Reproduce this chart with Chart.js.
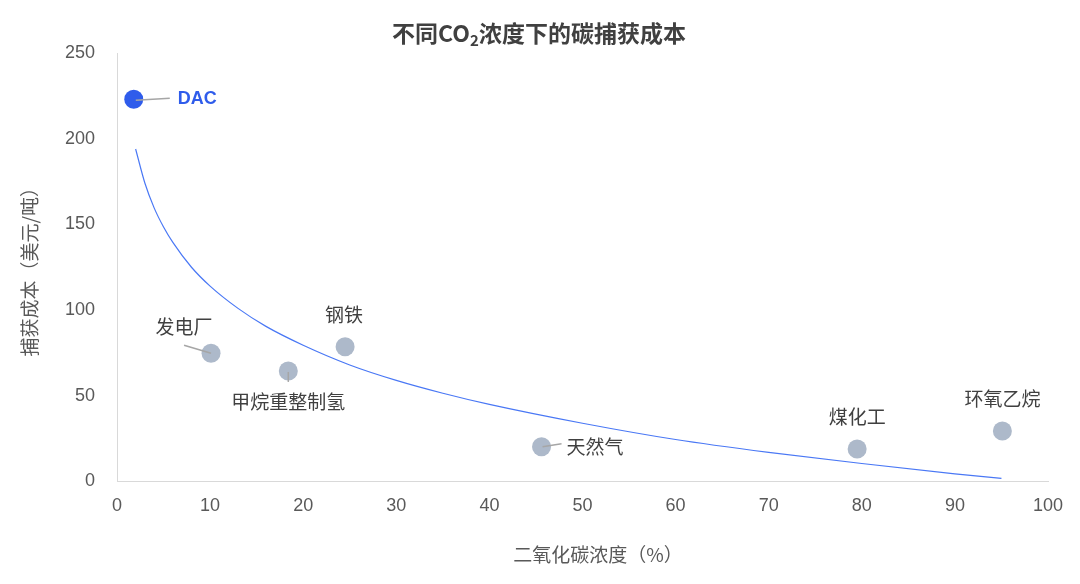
<!DOCTYPE html>
<html>
<head>
<meta charset="utf-8">
<script src="https://cdn.jsdelivr.net/npm/chart.js@4.4.1/dist/chart.umd.min.js"></script>
<style>
  html, body { margin: 0; padding: 0; background: #ffffff; }
  #wrap { width: 1080px; height: 584px; position: relative; }
</style>
</head>
<body>
<div id="wrap"><canvas id="c" width="1080" height="584"></canvas></div>
<script>
// ---- data ----
const categories = ["DAC", "发电厂", "甲烷重整制氢", "钢铁", "天然气", "煤化工", "环氧乙烷"];
const co2Concentration = [1.8, 10.1, 18.4, 24.5, 45.6, 79.5, 95.1];
const captureCost = [223, 74.8, 64.5, 78.6, 20.3, 19, 29.5];
// trend curve, values
const trendX = [2, 3, 4, 5, 6, 8, 10, 13, 16, 20, 25, 30, 35, 40, 50, 60, 70, 80, 90, 95];
const trendY = [194, 174, 159.5, 148.5, 139.5, 125, 114, 101, 90.5, 79.5, 68, 59, 51.5, 45, 34, 24.5, 17, 10.5, 4.5, 1.8];
const xTicks = [0, 10, 20, 30, 40, 50, 60, 70, 80, 90, 100];
const yTicks = [0, 50, 100, 150, 200, 250];

const titleParts = ["不同CO", "2", "浓度下的碳捕获成本"];
const xTitle = "二氧化碳浓度（%）";
const yTitle = "捕获成本（美元/吨）";

// ---- styles ----
const FONT = "'Liberation Sans', 'Noto Sans CJK SC', sans-serif";
const CJK = "'Noto Sans CJK SC', 'Liberation Sans', sans-serif";
const grey = "#ADB9CA";
const blue = "#2F5CEB";

// label placement relative to point (pixels)
const labelLayout = [
  { align: "left",   dx: 44,  dy: 0,   line: [2, 1, 36, -1], color: blue, bold: true },
  { align: "center", dx: -27, dy: -27, line: [0, 0, -27, -8] },
  { align: "center", dx: 0,   dy: 31,  line: [0, 1, 0, 11] },
  { align: "center", dx: -1,  dy: -32 },
  { align: "left",   dx: 25,  dy: 0,   line: [1, 0, 20, -3] },
  { align: "center", dx: 0,   dy: -32 },
  { align: "center", dx: 0,   dy: -32 }
];

const labelPlugin = {
  id: "pointLabels",
  afterDatasetsDraw(chart) {
    const ctx = chart.ctx;
    const meta = chart.getDatasetMeta(1);
    ctx.save();
    meta.data.forEach((pt, i) => {
      const L = labelLayout[i];
      const px = pt.x, py = pt.y;
      if (L.line) {
        ctx.strokeStyle = "#A6A6A6";
        ctx.lineWidth = 1.5;
        ctx.beginPath();
        ctx.moveTo(px + L.line[0], py + L.line[1]);
        ctx.lineTo(px + L.line[2], py + L.line[3]);
        ctx.stroke();
      }
      ctx.fillStyle = L.color || "#404040";
      ctx.font = (L.bold ? "bold 18px " + FONT : "19px " + CJK);
      ctx.textAlign = L.align;
      ctx.textBaseline = "middle";
      ctx.fillText(categories[i], px + L.dx, py + L.dy);
    });
    ctx.restore();
  }
};

const titlePlugin = {
  id: "subTitle",
  afterDraw(chart) {
    const ctx = chart.ctx;
    ctx.save();
    ctx.fillStyle = "#404040";
    ctx.textBaseline = "alphabetic";
    const big = "bold 23px " + CJK;
    const small = "bold 15px " + CJK;
    ctx.font = big;
    const w0 = ctx.measureText(titleParts[0]).width;
    const w2 = ctx.measureText(titleParts[2]).width;
    ctx.font = small;
    const w1 = ctx.measureText(titleParts[1]).width;
    const total = w0 + w1 + w2;
    let x = 539 - total / 2;
    const base = 42;
    ctx.textAlign = "left";
    ctx.font = big; ctx.fillText(titleParts[0], x, base); x += w0;
    ctx.font = small; ctx.fillText(titleParts[1], x, base + 4); x += w1;
    ctx.font = big; ctx.fillText(titleParts[2], x, base);

    // x-axis title
    ctx.fillStyle = "#595959";
    ctx.font = "19px " + CJK;
    ctx.textAlign = "center";
    ctx.textBaseline = "middle";
    ctx.fillText(xTitle, 598, 555);
    ctx.restore();
  }
};

new Chart(document.getElementById("c"), {
  type: "scatter",
  data: {
    datasets: [
      {
        label: "trend",
        data: trendX.map((x, i) => ({ x: x, y: trendY[i] })),
        showLine: true,
        borderColor: "#4A78F5",
        borderWidth: 1.2,
        pointRadius: 0,
        tension: 0.4,
        cubicInterpolationMode: "monotone",
        fill: false
      },
      {
        label: "points",
        data: co2Concentration.map((x, i) => ({ x: x, y: captureCost[i] })),
        pointRadius: 9.5,
        pointHoverRadius: 9.5,
        borderWidth: 0,
        backgroundColor: categories.map((c, i) => i === 0 ? blue : grey),
        pointBackgroundColor: categories.map((c, i) => i === 0 ? blue : grey)
      }
    ]
  },
  options: {
    responsive: false,
    animation: false,
    events: [],
    layout: { padding: { top: 53, right: 32, left: 0, bottom: 0 } },
    plugins: {
      legend: { display: false },
      title: { display: false },
      tooltip: { enabled: false }
    },
    scales: {
      x: {
        type: "linear",
        min: 0, max: 100,
        afterFit(s) { s.height = 102.5; },
        afterBuildTicks(s) { s.ticks = xTicks.map(v => ({ value: v })); },
        grid: { display: false, drawTicks: false },
        border: { display: true, color: "#D9D9D9", width: 1 },
        ticks: { color: "#595959", font: { family: FONT, size: 18 }, padding: 14, maxRotation: 0 },
        title: { display: false }
      },
      y: {
        type: "linear",
        min: 0, max: 250,
        afterFit(s) { s.width = 117; },
        afterBuildTicks(s) { s.ticks = yTicks.map(v => ({ value: v })); },
        grid: { display: false, drawTicks: false },
        border: { display: true, color: "#D9D9D9", width: 1 },
        ticks: { color: "#595959", font: { family: FONT, size: 18 }, padding: 22 },
        title: { display: true, text: yTitle, color: "#595959", font: { family: CJK, size: 19 }, padding: { top: 18, bottom: 0 } }
      }
    }
  },
  plugins: [labelPlugin, titlePlugin]
});
</script>
</body>
</html>
